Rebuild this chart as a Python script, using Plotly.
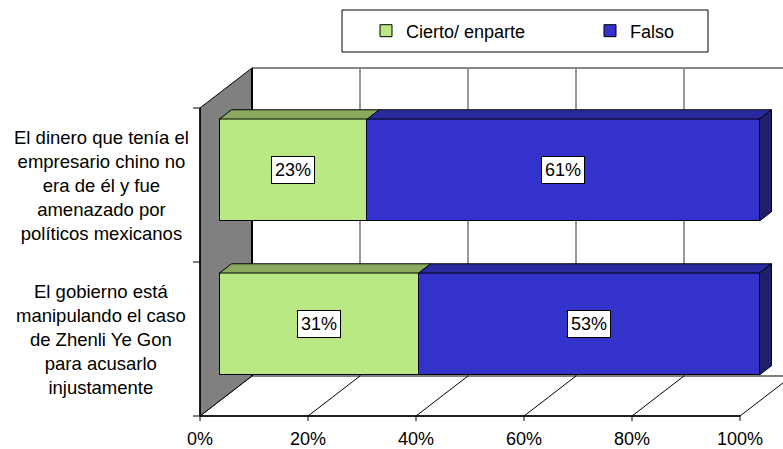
import plotly.graph_objects as go

# ---------------- data ----------------
categories = [
    "El dinero que tenía el<br>empresario chino no<br>era de él y fue<br>amenazado por<br>políticos mexicanos",
    "El gobierno está<br>manipulando el caso<br>de Zhenli Ye Gon<br>para acusarlo<br>injustamente",
]
cierto = [23, 31]
falso = [61, 53]
series_names = ["Cierto/ enparte", "Falso"]
x_ticks = [0, 20, 40, 60, 80, 100]
x_tick_labels = ["0%", "20%", "40%", "60%", "80%", "100%"]

# ---------------- style / geometry ----------------
W, H = 783, 449
FONT = "Liberation Sans, Arial, sans-serif"
GREEN, GREEN_TOP = "#BAE882", "#8CAA5F"
BLUE, BLUE_TOP, BLUE_SIDE = "#3333CC", "#2A2AA0", "#1F1F6B"
WALL_GRAY = "#808080"

PX_PER_PCT = 5.4      # pixels per percent
PX_PER_CAT = 154      # pixels per category
DEPTH_X, DEPTH_Y = 52, 40   # pixel offset of full depth
D_BAR = 0.375         # depth at which bars' front face sits
BAR_T = 0.2308        # bar thickness as depth fraction
BAR_W = 0.662         # bar width in category units
X0_PX, Y0_PX = 219.5, 324   # pixel position of (0%, category value 0) on bar plane

x_range = [-X0_PX / PX_PER_PCT, (W - X0_PX) / PX_PER_PCT]
y_range = [(Y0_PX - H) / PX_PER_CAT, Y0_PX / PX_PER_CAT]


def proj(t, c, d):
    """project (percent, category coord, depth) onto the axis plane of the bars."""
    return (t + (d - D_BAR) * DEPTH_X / PX_PER_PCT,
            c + (d - D_BAR) * DEPTH_Y / PX_PER_CAT)


n = len(categories)
ypos = [n - 1 - i for i in range(n)]
totals = [a + b for a, b in zip(cierto, falso)]
share_c = [a / t * 100 for a, t in zip(cierto, totals)]
share_f = [b / t * 100 for b, t in zip(falso, totals)]
c_lo, c_hi = -0.5, n - 0.5

fig = go.Figure()

# ---------------- walls & floor (shapes) ----------------
shapes = []


def poly(points, fill, line_color="black", lw=1):
    path = "M " + " L ".join(f"{x},{y}" for x, y in points) + " Z"
    shapes.append(dict(type="path", path=path, xref="x", yref="y", fillcolor=fill,
                       line=dict(color=line_color, width=lw), layer="below"))


def seg(p, q, color="black", lw=1):
    shapes.append(dict(type="line", x0=p[0], y0=p[1], x1=q[0], y1=q[1], xref="x", yref="y",
                       line=dict(color=color, width=lw), layer="below"))


# back wall
poly([proj(0, c_lo, 1), proj(0, c_hi, 1), proj(100, c_hi, 1), proj(100, c_lo, 1)], "white", "rgba(0,0,0,0)", 0)
for t in x_ticks[1:-1]:
    seg(proj(t, c_lo, 1), proj(t, c_hi, 1), "#333333", 1)
seg(proj(0, c_hi, 1), proj(100, c_hi, 1), "#888888", 2)
# floor
poly([proj(0, c_lo, 0), proj(100, c_lo, 0), proj(100, c_lo, 1), proj(0, c_lo, 1)], "white", "black", 1)
for t in x_ticks[1:-1]:
    seg(proj(t, c_lo, 0), proj(t, c_lo, 1), "black", 1)
# side wall
poly([proj(0, c_lo, 0), proj(0, c_hi, 0), proj(0, c_hi, 1), proj(0, c_lo, 1)], WALL_GRAY, "black", 1)
seg(proj(0, c_lo, 1), proj(0, c_hi, 1), "black", 2)
# front axes
seg(proj(0, c_lo, 0), proj(100, c_lo, 0), "black", 1.5)
seg(proj(0, c_lo, 0), proj(0, c_hi, 0), "black", 1.5)
tick_dx = 7 / PX_PER_PCT
tick_dy = 5 / PX_PER_CAT
for k in range(n + 1):
    p = proj(0, c_lo + k, 0)
    seg((p[0] - tick_dx, p[1]), p, "black", 1)
for t in x_ticks:
    p = proj(t, c_lo, 0)
    seg(p, (p[0], p[1] - tick_dy), "black", 1)

# ---------------- bars ----------------
fig.add_trace(go.Bar(orientation="h", y=ypos, x=share_c, base=[0] * n, width=BAR_W,
                     name=series_names[0], marker=dict(color=GREEN, line=dict(color="black", width=1)),
                     hoverinfo="skip"))
fig.add_trace(go.Bar(orientation="h", y=ypos, x=share_f, base=share_c, width=BAR_W,
                     name=series_names[1], marker=dict(color=BLUE, line=dict(color="black", width=1)),
                     hoverinfo="skip"))


def face_trace(polys, color):
    xs, ys = [], []
    for pts in polys:
        for x, y in pts + [pts[0]]:
            xs.append(x)
            ys.append(y)
        xs.append(None)
        ys.append(None)
    return go.Scatter(x=xs, y=ys, mode="lines", fill="toself", fillcolor=color,
                      line=dict(color="black", width=1), showlegend=False, hoverinfo="skip")


top_g, top_b, side_b = [], [], []
for i in range(n):
    c = ypos[i]
    ct = c + BAR_W / 2
    cb = c - BAR_W / 2
    s0, s1, s2 = 0, share_c[i], share_c[i] + share_f[i]
    top_g.append([proj(s0, ct, D_BAR), proj(s1, ct, D_BAR), proj(s1, ct, D_BAR + BAR_T), proj(s0, ct, D_BAR + BAR_T)])
    top_b.append([proj(s1, ct, D_BAR), proj(s2, ct, D_BAR), proj(s2, ct, D_BAR + BAR_T), proj(s1, ct, D_BAR + BAR_T)])
    side_b.append([proj(s2, cb, D_BAR), proj(s2, ct, D_BAR), proj(s2, ct, D_BAR + BAR_T), proj(s2, cb, D_BAR + BAR_T)])
fig.add_trace(face_trace(top_g, GREEN_TOP))
fig.add_trace(face_trace(top_b, BLUE_TOP))
fig.add_trace(face_trace(side_b, BLUE_SIDE))

# ---------------- annotations ----------------
ann = []
for i in range(n):
    c = ypos[i]
    for start, width, val in [(0, share_c[i], cierto[i]), (share_c[i], share_f[i], falso[i])]:
        ann.append(dict(x=start + width / 2, y=c, xref="x", yref="y", text=f"{val}%", showarrow=False,
                        font=dict(family=FONT, size=18, color="black"), bgcolor="white",
                        bordercolor="black", borderwidth=1, borderpad=3))
    p = proj(0, c, 0)
    ann.append(dict(x=p[0], y=p[1], xref="x", yref="y", text=categories[i], showarrow=False,
                    xanchor="center", yanchor="middle", xshift=-99, align="center",
                    font=dict(family=FONT, size=18.5, color="black")))
for t, lab in zip(x_ticks, x_tick_labels):
    p = proj(t, c_lo, 0)
    ann.append(dict(x=p[0], y=p[1], xref="x", yref="y", text=lab, showarrow=False,
                    xanchor="center", yanchor="middle", yshift=-23,
                    font=dict(family=FONT, size=18, color="black")))

# legend box
shapes.append(dict(type="rect", xref="paper", yref="paper", x0=342 / W, x1=708 / W,
                   y0=1 - 52 / H, y1=1 - 10 / H, line=dict(color="black", width=1), fillcolor="white",
                   layer="below"))

fig.update_layout(
    width=W, height=H, margin=dict(l=0, r=0, t=0, b=0, pad=0, autoexpand=False),
    paper_bgcolor="white", plot_bgcolor="white",
    barmode="overlay", bargap=0,
    xaxis=dict(range=x_range, visible=False, fixedrange=True),
    yaxis=dict(range=y_range, visible=False, fixedrange=True),
    shapes=shapes, annotations=ann,
    legend=dict(orientation="h", x=366 / W, y=1 - 31 / H, xanchor="left", yanchor="middle",
                bgcolor="rgba(0,0,0,0)", borderwidth=0, entrywidth=179, itemwidth=30,
                font=dict(family=FONT, size=18, color="black")),
    showlegend=True,
)

fig.write_html("out.html", config={"displayModeBar": False},
               post_script="document.body.style.margin='0px';")
